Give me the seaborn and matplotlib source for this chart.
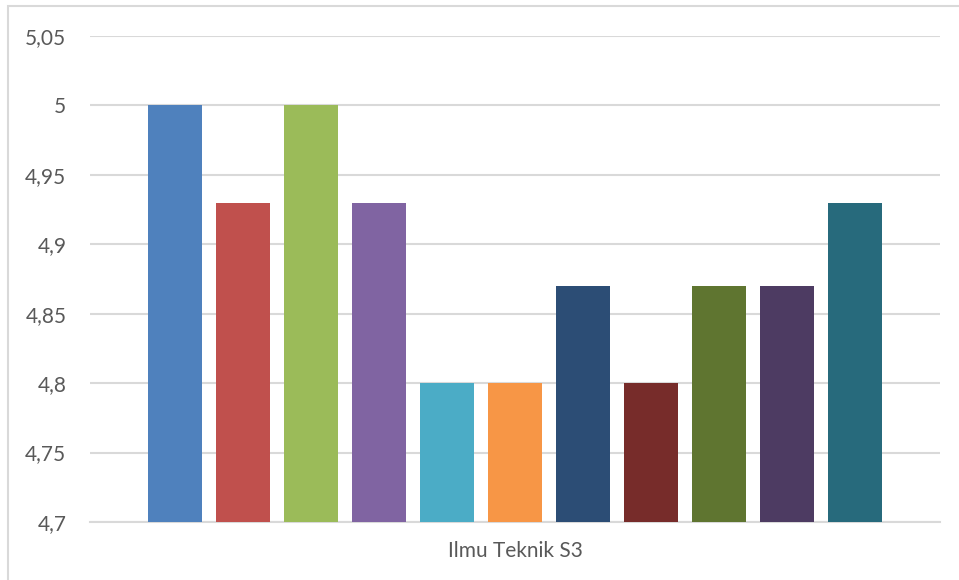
import pandas as pd
import matplotlib.pyplot as plt
import seaborn as sns
from matplotlib.patches import Rectangle
from matplotlib.ticker import FuncFormatter

# =====================================================
# DATA
# =====================================================

group = "Ilmu Teknik S3"

series = [
    "Seri 1", "Seri 2", "Seri 3", "Seri 4", "Seri 5", "Seri 6",
    "Seri 7", "Seri 8", "Seri 9", "Seri 10", "Seri 11",
]

values = [5.00, 4.93, 5.00, 4.93, 4.80, 4.80, 4.87, 4.80, 4.87, 4.87, 4.93]

colors = [
    "#4F81BD", "#C0504D", "#9BBB59", "#8064A2", "#4BACC6", "#F79646",
    "#2C4D75", "#772C2A", "#5F7530", "#4D3B62", "#276A7C",
]

y_ticks = [4.7, 4.75, 4.8, 4.85, 4.9, 4.95, 5.0, 5.05]

df = pd.DataFrame({
    "kelompok": [group] * len(series),
    "seri": series,
    "nilai": values,
})

# =====================================================
# PLOT
# =====================================================

sns.set_style("white")
plt.rcParams["font.family"] = ["Lato", "DejaVu Sans"]

fig = plt.figure(figsize=(9.59, 5.8), dpi=100)
ax = fig.add_axes([90 / 959, 58 / 580, 850 / 959, 486 / 580])

sns.barplot(
    data=df,
    x="kelompok",
    y="nilai",
    hue="seri",
    palette=colors,
    width=0.88,
    gap=0.2,
    saturation=1,
    linewidth=0,
    legend=False,
    ax=ax,
    zorder=3,
)

ax.set_xlim(-0.5, 0.5)
ax.set_ylim(4.7, 5.05)
ax.set_yticks(y_ticks)
ax.yaxis.set_major_formatter(
    FuncFormatter(lambda v, p: f"{v:.2f}".rstrip("0").rstrip(".").replace(".", ","))
)

ax.grid(axis="y", color="#D9D9D9", linewidth=1.5, zorder=0)
ax.set_axisbelow(True)

for s in ["top", "right", "left"]:
    ax.spines[s].set_visible(False)
ax.spines["bottom"].set_color("#D9D9D9")
ax.spines["bottom"].set_linewidth(1.5)

ax.tick_params(axis="y", length=0, pad=17, labelsize=15, labelcolor="#595959")
ax.tick_params(axis="x", length=0, pad=14, labelsize=15, labelcolor="#595959")
ax.set_xlabel("")
ax.set_ylabel("")

# chart frame
fig.patches.append(
    Rectangle(
        (8 / 959, -0.1), 1.0, 1.1 - 6 / 580,
        transform=fig.transFigure,
        fill=False,
        edgecolor="#D9D9D9",
        linewidth=1.5,
    )
)

fig.savefig("out.png", dpi=100)
